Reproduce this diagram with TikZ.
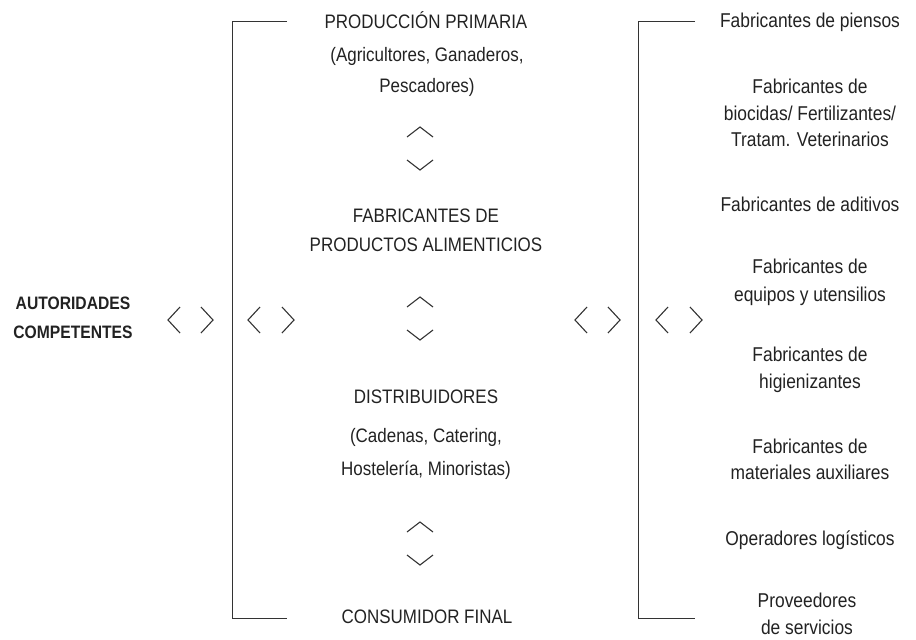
\documentclass[tikz,border=0pt]{standalone}
\usepackage{fontspec}
\setmainfont{Liberation Sans}[FakeStretch=0.87]
\definecolor{ink}{HTML}{222222}
\definecolor{rule}{HTML}{333333}
\tikzset{
  x=1pt, y=-1pt,
  txt/.style={text=ink, align=center, inner sep=0pt, font=\fontsize{20}{26.5}\selectfont},
  ltxt/.style={txt, font=\fontsize{19.5}{31}\selectfont},
  btxt/.style={txt, font=\fontsize{18}{29}\selectfont\bfseries},
  brk/.style={draw=rule, line width=1pt},
  chev/.style={draw=rule, line width=1.1pt, line join=miter},
  pics/chevL/.style={code={\draw[chev] (6,-13) -- (-6,0) -- (6,13);}},
  pics/chevR/.style={code={\draw[chev] (-6,-13) -- (6,0) -- (-6,13);}},
  pics/chevU/.style={code={\draw[chev] (-13,5) -- (0,-5) -- (13,5);}},
  pics/chevD/.style={code={\draw[chev] (-13,-5) -- (0,5) -- (13,-5);}},
}
\begin{document}
\begin{tikzpicture}
\useasboundingbox (0,0) rectangle (916,640);

% left authority label
\node[btxt] (aut) at (73,317.5) {AUTORIDADES\\COMPETENTES};

% horizontal chevron pairs
\pic at (174,320) {chevL};
\pic at (207,320) {chevR};
\pic at (254,320) {chevL};
\pic at (288,320) {chevR};
\pic at (581,320) {chevL};
\pic at (614,320) {chevR};
\pic at (662,320) {chevL};
\pic at (696,320) {chevR};

% left bracket
\coordinate (lbt) at (287,21);
\coordinate (lbtc) at (232,21);
\coordinate (lbbc) at (232,618);
\coordinate (lbb) at (287,618);
\draw[brk] (lbt) -- (lbtc) -- (lbbc) -- (lbb);

% right bracket
\coordinate (rbt) at (695,21);
\coordinate (rbtc) at (638,21);
\coordinate (rbbc) at (638,618);
\coordinate (rbb) at (695,618);
\draw[brk] (rbt) -- (rbtc) -- (rbbc) -- (rbb);

% central chain
\node[ltxt] (t1) at (426,20) {PRODUCCIÓN PRIMARIA};
\node[ltxt] (t1b) at (427,71.5) {(Agricultores, Ganaderos,\\Pescadores)};
\pic at (420,132) {chevU};
\pic at (420,165) {chevD};
\node[txt, font=\fontsize{19.5}{29}\selectfont] (t2) at (426,230.5) {FABRICANTES DE\\PRODUCTOS ALIMENTICIOS};
\pic at (420,302) {chevU};
\pic at (420,335) {chevD};
\node[ltxt] (t3) at (426,397) {DISTRIBUIDORES};
\node[txt, font=\fontsize{19.5}{33}\selectfont] (t3b) at (426,453.5) {(Cadenas, Catering,\\Hostelería, Minoristas)};
\pic at (420,527) {chevU};
\pic at (420,560) {chevD};
\node[ltxt] (t4) at (427,617) {CONSUMIDOR FINAL};

% right column
\node[txt] (r1) at (810,22) {Fabricantes de piensos};
\node[txt] (r2) at (810,113) {Fabricantes de\\biocidas/ Fertilizantes/\\Tratam. Veterinarios};
\node[txt] (r3) at (810,204) {Fabricantes de aditivos};
\node[txt, font=\fontsize{20}{28}\selectfont] (r4) at (810,282) {Fabricantes de\\equipos y utensilios};
\node[txt] (r5) at (810,370) {Fabricantes de\\higienizantes};
\node[txt] (r6) at (810,459.5) {Fabricantes de\\materiales auxiliares};
\node[txt] (r7) at (810,540) {Operadores logísticos};
\node[txt] (r8) at (807,614) {Proveedores\\de servicios};
\end{tikzpicture}
\end{document}
